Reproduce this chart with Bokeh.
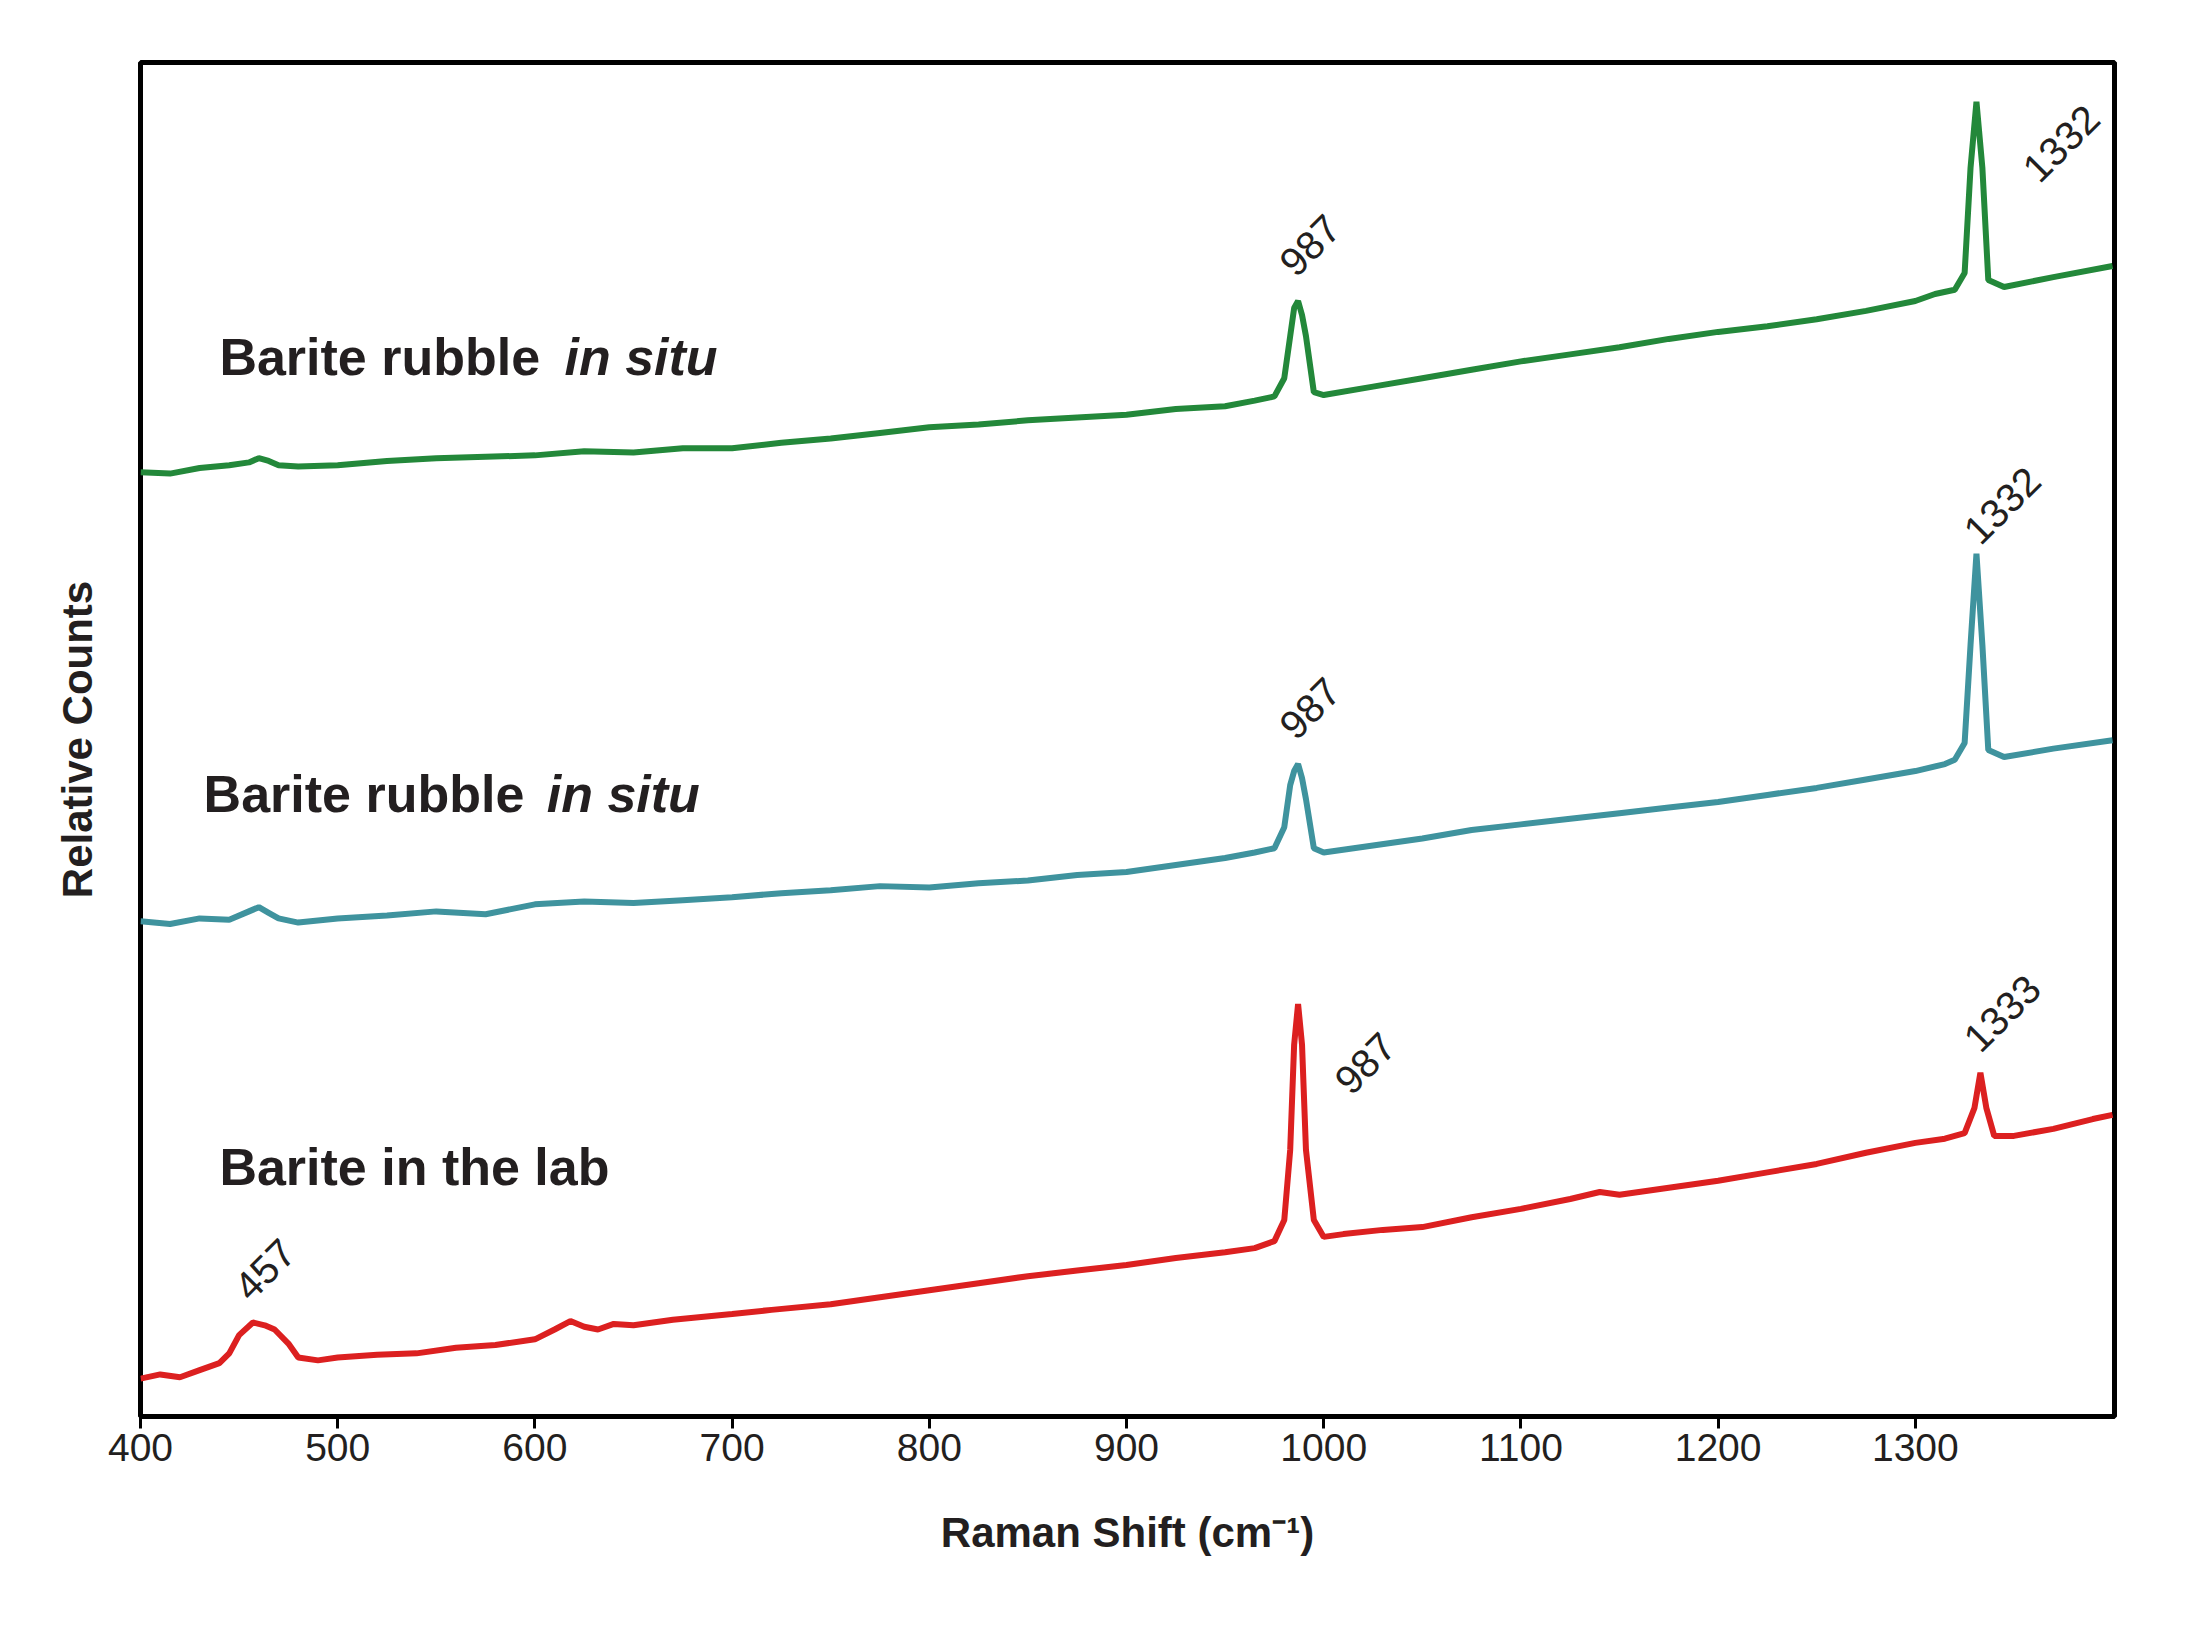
import math
from bokeh.plotting import figure
from bokeh.models import Range1d, FixedTicker
from bokeh.core.properties import value
from bokeh.embed import file_html
from bokeh.resources import INLINE

# Raman spectra (relative counts, arbitrary units)
red_x = [400,410,420,430,440,445,450,457,463,468,475,480,490,500,520,540,560,580,600,610,618,625,632,640,650,670,700,720,750,775,800,825,850,875,900,925,950,965,975,980,983,985,987,989,991,995,1000,1010,1030,1050,1075,1100,1125,1140,1150,1175,1200,1225,1250,1275,1300,1315,1325,1330,1333,1336,1340,1350,1370,1390,1400]
red_y = [27,30,28,33,38,45,58,67,65,62,52,42,40,42,44,45,49,51,55,62,68,64,62,66,65,69,73,76,80,85,90,95,100,104,108,113,117,120,125,140,190,265,294,265,190,140,128,130,133,135,142,148,155,160,158,163,168,174,180,188,195,198,202,220,245,220,200,200,205,212,215]

teal_x = [400,415,430,445,455,460,465,470,480,500,525,550,575,600,625,650,675,700,725,750,775,800,825,850,875,900,925,950,965,975,980,983,985,987,989,991,995,1000,1025,1050,1075,1100,1125,1150,1175,1200,1225,1250,1275,1300,1315,1320,1325,1328,1331,1334,1337,1345,1370,1400]
teal_y = [353,351,355,354,360,363,359,355,352,355,357,360,358,365,367,366,368,370,373,375,378,377,380,382,386,388,393,398,402,405,420,450,460,465,455,440,405,402,407,412,418,422,426,430,434,438,443,448,454,460,465,468,480,550,615,550,475,470,476,482]

green_x = [400,415,430,445,455,460,465,470,480,500,525,550,575,600,625,650,675,700,725,750,775,800,825,850,875,900,925,950,965,975,980,983,985,987,989,991,995,1000,1025,1050,1075,1100,1125,1150,1175,1200,1225,1250,1275,1300,1310,1320,1325,1328,1331,1334,1337,1345,1370,1400]
green_y = [673,672,676,678,680,683,681,678,677,678,681,683,684,685,688,687,690,690,694,697,701,705,707,710,712,714,718,720,724,727,740,770,790,795,785,770,730,728,734,740,746,752,757,762,768,773,777,782,788,795,800,803,815,890,937,890,810,805,812,820]

labels_main = ["Barite rubble", "Barite rubble", "Barite in the lab"]
labels_main_x = [440, 432, 440]
labels_main_y = [755, 444, 178]
labels_it = ["in situ", "in situ"]
labels_it_x = [615, 606]
labels_it_y = [755, 444]

peak_text = ["987", "1332", "987", "1332", "987", "1333", "457"]
peak_x = [981, 1358, 981, 1328, 1009, 1328, 451]
peak_y = [818, 885, 488, 627, 235, 265, 88]

xticks = [400,500,600,700,800,900,1000,1100,1200,1300]

p = figure(width=2183, height=1633, output_backend="svg", toolbar_location=None,
           x_range=Range1d(400, 1401), y_range=Range1d(0, 965),
           min_border_left=140, min_border_right=69, min_border_top=62, min_border_bottom=217)
p.grid.visible = False
p.outline_line_color = "black"
p.outline_line_width = 5
p.background_fill_color = "white"
p.border_fill_color = "white"

p.line(green_x, green_y, line_color="#23883a", line_width=6)
p.line(teal_x, teal_y, line_color="#3f939e", line_width=6)
p.line(red_x, red_y, line_color="#dc2020", line_width=6)

font = value("Liberation Sans")
p.text(labels_main_x, labels_main_y, text=labels_main, text_font=font, text_font_size="52px",
       text_font_style="bold", text_baseline="middle", text_color="#231f20")
p.text(labels_it_x, labels_it_y, text=labels_it, text_font=font, text_font_size="52px",
       text_font_style="bold italic", text_baseline="middle", text_color="#231f20")
p.text(peak_x, peak_y, text=peak_text, text_font=font, text_font_size="40px",
       angle=math.pi/4, text_baseline="alphabetic", text_align="left", text_color="#231f20")

xa = p.xaxis[0]
xa.ticker = FixedTicker(ticks=xticks)
xa.major_label_text_font = "Liberation Sans"
xa.major_label_text_font_size = "39px"
xa.major_label_text_color = "#231f20"
xa.axis_line_color = None
xa.major_tick_line_width = 3
xa.major_tick_out = 12
xa.major_tick_in = 0
xa.minor_tick_line_color = None
xa.axis_label = "Raman Shift (cm\u207b\u00b9)"
xa.axis_label_text_font = "Liberation Sans"
xa.axis_label_text_font_style = "bold"
xa.axis_label_text_font_size = "42px"
xa.axis_label_text_color = "#231f20"
xa.axis_label_standoff = 45

ya = p.yaxis[0]
ya.ticker = FixedTicker(ticks=[])
ya.major_label_text_font_size = "0px"
ya.axis_line_color = None
ya.minor_tick_line_color = None
ya.axis_label = "Relative Counts"
ya.axis_label_text_font = "Liberation Sans"
ya.axis_label_text_font_style = "bold"
ya.axis_label_text_font_size = "42px"
ya.axis_label_text_color = "#231f20"
ya.axis_label_standoff = 40

open("out.html", "w").write(file_html(p, INLINE))
